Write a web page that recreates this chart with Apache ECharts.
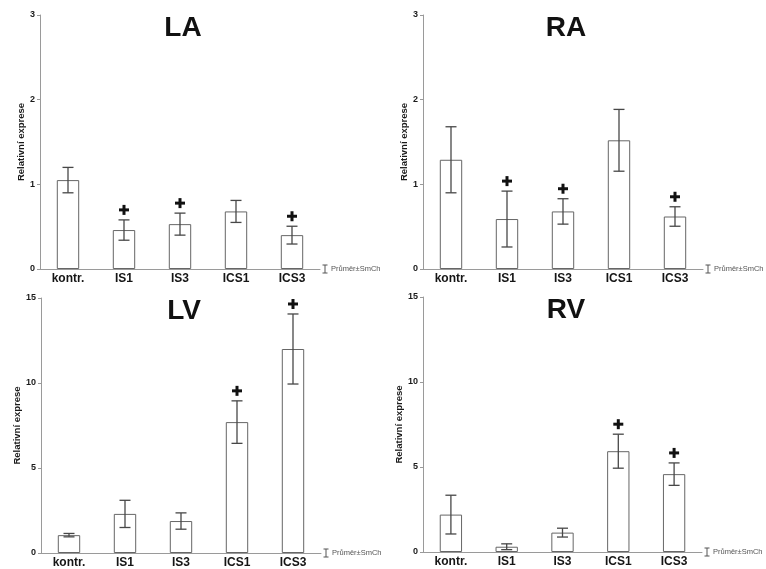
<!DOCTYPE html>
<html>
<head>
<meta charset="utf-8">
<script src="https://cdn.jsdelivr.net/npm/echarts@6/dist/echarts.min.js"></script>
<style>
  html, body { margin: 0; padding: 0; background: #fff; }
  #chart { width: 766px; height: 569px; }
</style>
</head>
<body>
<div id="chart"></div>
<script>
// Groups compared in every panel
const categories = ['kontr.', 'IS1', 'IS3', 'ICS1', 'ICS3'];

// Mean relative expression and its standard error, per heart chamber
const laMean = [1.05, 0.46, 0.53, 0.68, 0.40];
const laSem  = [0.15, 0.12, 0.13, 0.13, 0.105];
const raMean = [1.29, 0.59, 0.68, 1.52, 0.62];
const raSem  = [0.39, 0.33, 0.15, 0.365, 0.115];
const lvMean = [1.05, 2.30, 1.88, 7.70, 12.00];
const lvSem  = [0.10, 0.80, 0.48, 1.25, 2.06];
const rvMean = [2.20, 0.31, 1.14, 5.93, 4.58];
const rvSem  = [1.14, 0.17, 0.26, 1.00, 0.66];

// Groups marked "+" (significant vs. control)
const laSig = [0, 1, 1, 0, 1];
const raSig = [0, 1, 1, 0, 1];
const lvSig = [0, 0, 0, 1, 1];
const rvSig = [0, 0, 0, 1, 1];

// Y-axis ticks for atrial and ventricular panels
const atriaTicks = [0, 1, 2, 3];
const ventTicks = [0, 5, 10, 15];

const yName = 'Relativní exprese';
const legendText = 'Průměr±SmCh';
const FONT = '"Liberation Sans", Arial, sans-serif';

const panels = [
  { title: 'LA', mean: laMean, sem: laSem, sig: laSig, ticks: atriaTicks, grid: { left: 40, top: 15, width: 280, height: 254 } },
  { title: 'RA', mean: raMean, sem: raSem, sig: raSig, ticks: atriaTicks, grid: { left: 423, top: 15, width: 280, height: 254 } },
  { title: 'LV', mean: lvMean, sem: lvSem, sig: lvSig, ticks: ventTicks, grid: { left: 41, top: 298, width: 280, height: 255 } },
  { title: 'RV', mean: rvMean, sem: rvSem, sig: rvSig, ticks: ventTicks, grid: { left: 423, top: 297, width: 279, height: 255 } }
];

const AXIS_COLOR = '#9a9a9a';
const grids = [], xAxes = [], yAxes = [], series = [], graphics = [];

panels.forEach((p, k) => {
  grids.push(Object.assign({ outerBoundsMode: 'none', containLabel: false }, p.grid));

  xAxes.push({
    type: 'category', gridIndex: k, data: categories, boundaryGap: true,
    axisLine: { lineStyle: { color: AXIS_COLOR, width: 1 } },
    axisTick: { show: false },
    axisLabel: { color: '#151515', fontSize: 12, fontWeight: 'bold', fontFamily: FONT, margin: 4 }
  });

  const tMax = p.ticks[p.ticks.length - 1];
  const tStep = p.ticks[1] - p.ticks[0];
  yAxes.push({
    type: 'value', gridIndex: k, min: p.ticks[0], max: tMax, interval: tStep,
    axisLine: { show: true, lineStyle: { color: AXIS_COLOR, width: 1 } },
    axisTick: { show: true, length: 3, lineStyle: { color: AXIS_COLOR } },
    splitLine: { show: false },
    axisLabel: { color: '#1a1a1a', fontSize: 9, fontWeight: 'bold', fontFamily: FONT, margin: 5 },
    name: yName, nameLocation: 'middle', nameRotate: 90, nameGap: 12,
    nameTextStyle: { color: '#1a1a1a', fontSize: 9.5, fontWeight: 'bold', fontFamily: FONT }
  });

  // Bars: open white boxes
  series.push({
    type: 'bar', xAxisIndex: k, yAxisIndex: k, data: p.mean,
    barWidth: '40%', silent: true,
    itemStyle: { color: '#ffffff', borderColor: '#666666', borderWidth: 1 }
  });

  // Error bars: mean ± SEM with caps
  series.push({
    type: 'custom', xAxisIndex: k, yAxisIndex: k, silent: true, z: 5,
    data: p.mean.map((m, i) => [i, m - p.sem[i], m + p.sem[i]]),
    renderItem: (params, api) => {
      const lo = api.coord([api.value(0), api.value(1)]);
      const hi = api.coord([api.value(0), api.value(2)]);
      const half = 5.5;
      const style = { stroke: '#474747', lineWidth: 1.3, fill: null };
      return {
        type: 'group',
        children: [
          { type: 'line', shape: { x1: hi[0], y1: hi[1], x2: lo[0], y2: lo[1] }, style },
          { type: 'line', shape: { x1: hi[0] - half, y1: hi[1], x2: hi[0] + half, y2: hi[1] }, style },
          { type: 'line', shape: { x1: lo[0] - half, y1: lo[1], x2: lo[0] + half, y2: lo[1] }, style }
        ]
      };
    }
  });

  // "+" significance markers above the error bars
  series.push({
    type: 'custom', xAxisIndex: k, yAxisIndex: k, silent: true, z: 6,
    data: p.mean.map((m, i) => [i, m + p.sem[i], p.sig[i]]),
    renderItem: (params, api) => {
      if (!api.value(2)) return null;
      const top = api.coord([api.value(0), api.value(1)]);
      const cx = top[0], cy = top[1] - 10;
      const s = 5, t = 1.5;
      return {
        type: 'group',
        children: [
          { type: 'rect', shape: { x: cx - s, y: cy - t, width: 2 * s, height: 2 * t }, style: { fill: '#111' } },
          { type: 'rect', shape: { x: cx - t, y: cy - s, width: 2 * t, height: 2 * s }, style: { fill: '#111' } }
        ]
      };
    }
  });

  // Panel title
  const g = p.grid;
  graphics.push({
    type: 'text', x: g.left + 143, y: g.top + 13,
    style: { text: p.title, fill: '#111', font: 'bold 28px ' + FONT, textAlign: 'center', textVerticalAlign: 'middle' }
  });

  // Legend key for the error bars, next to the x-axis end
  const lx = g.left + g.width + 5;
  const ly = g.top + g.height;
  graphics.push({
    type: 'group', x: lx, y: ly,
    children: [
      { type: 'line', shape: { x1: 0, y1: -4, x2: 0, y2: 4 }, style: { stroke: '#555', lineWidth: 1 } },
      { type: 'line', shape: { x1: -2.5, y1: -4, x2: 2.5, y2: -4 }, style: { stroke: '#555', lineWidth: 1 } },
      { type: 'line', shape: { x1: -2.5, y1: 4, x2: 2.5, y2: 4 }, style: { stroke: '#555', lineWidth: 1 } },
      { type: 'text', x: 6, y: 0, style: { text: legendText, fill: '#555', font: '7.5px ' + FONT, textVerticalAlign: 'middle' } }
    ]
  });
});

const chart = echarts.init(document.getElementById('chart'), null, { renderer: 'canvas' });
chart.setOption({
  animation: false,
  backgroundColor: '#ffffff',
  grid: grids,
  xAxis: xAxes,
  yAxis: yAxes,
  series: series,
  graphic: graphics
});
</script>
</body>
</html>
